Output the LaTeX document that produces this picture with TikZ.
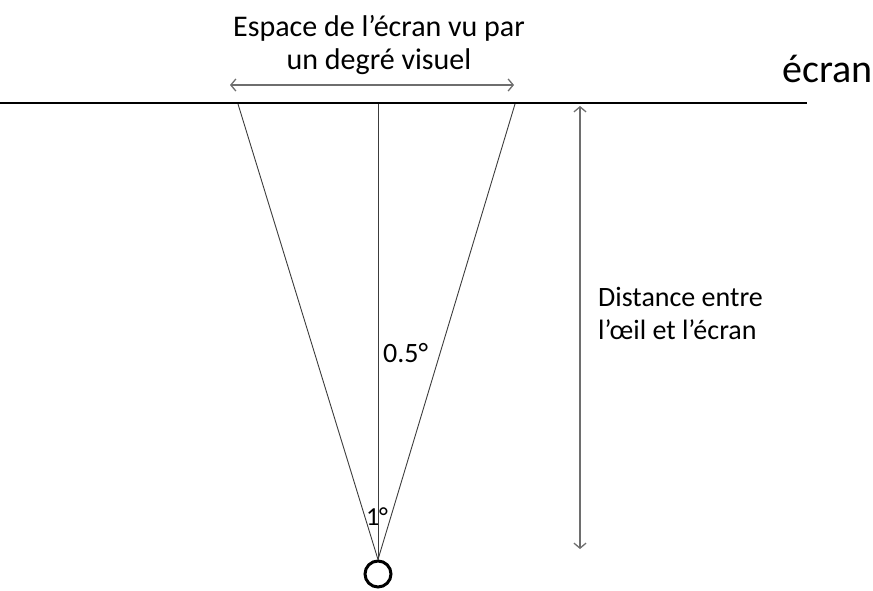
\documentclass[tikz,border=0pt]{standalone}
\usepackage{fontspec}
\setmainfont{Carlito}
\usetikzlibrary{arrows.meta}
\definecolor{rayGray}{RGB}{60,60,60}
\definecolor{arrowGray}{RGB}{110,110,110}

\begin{document}
\begin{tikzpicture}[x=1pt,y=-1pt]
\useasboundingbox (0,0) rectangle (873,590);
\tikzset{ray/.style={draw=rayGray,line width=0.9pt},
  measure/.style={draw=arrowGray,line width=1.1pt,{Straight Barb[length=5pt,width=12pt,line width=1.3pt]}-{Straight Barb[length=5pt,width=12pt,line width=1.3pt]}},
  lbl/.style={inner sep=0pt,font=\fontsize{28}{33}\selectfont}}
% ecran
\coordinate (scrL) at (0,103);
\coordinate (scrR) at (807,103);
\draw[line width=2pt] (scrL) -- (scrR);
\node[lbl,font=\fontsize{40}{44}\selectfont,anchor=base west] (scrlbl) at (782,82) {écran};
% oeil et rayons
\node[circle,draw,line width=3pt,minimum size=26pt,inner sep=0pt] (eye) at (378,574) {};
\coordinate (rayL) at (238,104);
\coordinate (rayM) at (378,104);
\coordinate (rayR) at (515,104);
\draw[ray] (eye.north) -- (rayL);
\draw[ray] (eye.north) -- (rayM);
\draw[ray] (eye.north) -- (rayR);
\node[lbl,font=\fontsize{26}{30}\selectfont,anchor=base] (oneDeg) at (377,525) {1°};
\node[lbl,anchor=base west] (halfDeg) at (383,362) {0.5°};
% espace vu
\coordinate (spaceL) at (230,85);
\coordinate (spaceR) at (514,85);
\draw[measure] (spaceL) -- (spaceR);
\node[lbl,font=\fontsize{30}{33}\selectfont,align=center,anchor=north] (spacelbl) at (379,15) {Espace de l’écran vu par\\un degré visuel};
% distance
\coordinate (distT) at (580,106);
\coordinate (distB) at (580,549);
\draw[measure] (distT) -- (distB);
\node[lbl,align=left,anchor=north west] (distlbl) at (598,287) {Distance entre\\l’œil et l’écran};
\end{tikzpicture}
\end{document}
